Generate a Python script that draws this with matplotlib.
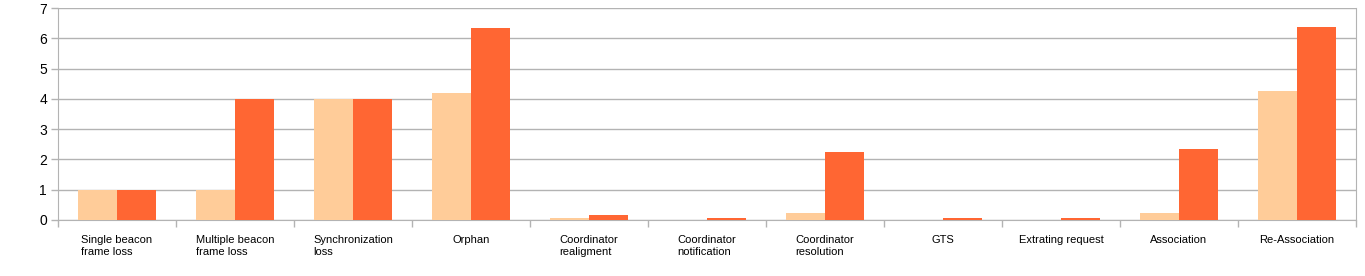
import numpy as np
import matplotlib.pyplot as plt

plt.rcParams['font.family'] = ['Liberation Sans', 'DejaVu Sans']

categories = ['Single beacon\nframe loss', 'Multiple beacon\nframe loss', 'Synchronization\nloss',
              'Orphan', 'Coordinator\nrealigment', 'Coordinator\nnotification', 'Coordinator\nresolution',
              'GTS', 'Extrating request', 'Association', 'Re-Association']
light = [1.0, 1.0, 4.0, 4.2, 0.07, 0.0, 0.22, 0.0, 0.0, 0.22, 4.25]
dark = [1.0, 4.0, 4.0, 6.33, 0.15, 0.05, 2.25, 0.05, 0.05, 2.35, 6.38]

fig = plt.figure(figsize=(13.65, 2.76), dpi=100)
ax = fig.add_axes([0.0425, 0.203, 0.9508, 0.768])

x = np.arange(len(categories))
w = 0.33
ax.bar(x - w / 2, light, w, color='#FFCC99', zorder=3)
ax.bar(x + w / 2, dark, w, color='#FF6633', zorder=3)

ax.set_xlim(-0.5, len(categories) - 0.5)
ax.set_ylim(0, 7)
ax.set_yticks(range(8))
ax.yaxis.grid(True, color='#b3b3b3', linewidth=1, zorder=0)

ax.set_xticks(x)
ax.set_xticklabels(categories, fontsize=8, ha='center', multialignment='left', va='top',
                   linespacing=1.25)
ax.tick_params(axis='x', length=0, pad=11)
ax.set_xticks(np.arange(len(categories) + 1) - 0.5, minor=True)
ax.tick_params(axis='x', which='minor', length=5, color='#b3b3b3', width=1)
ax.tick_params(axis='y', length=5, color='#b3b3b3', width=1, labelsize=10, pad=3)

for s in ['left', 'bottom', 'right']:
    ax.spines[s].set_color('#b3b3b3')
ax.spines['top'].set_visible(False)

fig.savefig('out.png', dpi=100)
